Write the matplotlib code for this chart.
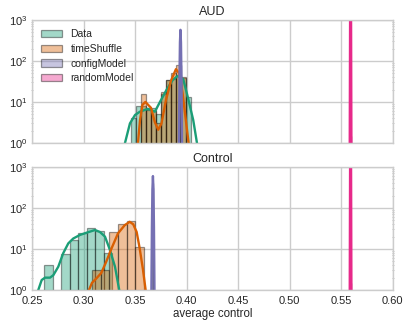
import numpy as np
import matplotlib
matplotlib.use("Agg")
import matplotlib.pyplot as plt

plt.rcParams['font.family'] = ['Liberation Sans', 'DejaVu Sans']
plt.rcParams['mathtext.fontset'] = 'custom'
plt.rcParams['mathtext.rm'] = 'Liberation Sans'
plt.rcParams['mathtext.it'] = 'Liberation Sans:italic'
plt.rcParams['axes.edgecolor'] = '#cccccc'
plt.rcParams['grid.color'] = '#cccccc'
plt.rcParams['text.color'] = '#262626'
plt.rcParams['xtick.color'] = '#262626'
plt.rcParams['ytick.color'] = '#262626'
plt.rcParams['axes.labelcolor'] = '#262626'

# ---------------- data ----------------
labels = ["Data", "timeShuffle", "configModel", "randomModel"]
colors = ["#1b9e77", "#d95f02", "#7570b3", "#e7298a"]
panel_titles = ["AUD", "Control"]
x_ticks = [0.25, 0.30, 0.35, 0.40, 0.45, 0.50, 0.55, 0.60]
x_ticklabels = ["0.25", "0.30", "0.35", "0.40", "0.45", "0.50", "0.55", "0.60"]

# AUD panel histograms (bin edges, bar heights)
aud_data_edges = [0.3460, 0.3508, 0.3557, 0.3605, 0.3654, 0.3702, 0.3751,
                  0.3799, 0.3848, 0.3896, 0.3945, 0.3993, 0.4042]
aud_data_vals = [4, 8, 8, 7, 7, 5, 16, 34, 36, 45, 38, 13]
aud_shuf_edges = [0.3557, 0.3605, 0.3654, 0.3702, 0.3751, 0.3799,
                  0.3848, 0.3896, 0.3945, 0.3993]
aud_shuf_vals = [16, 6.5, 6, 3, 18, 34, 50, 80, 41]
aud_conf_edges = [0.3935, 0.3940, 0.3945]
aud_conf_vals = [60, 80]
aud_rand_edges = [0.5587, 0.5590, 0.5593]
aud_rand_vals = [1.5, 1.5]

# AUD panel density curves
aud_data_kx = [0.3402, 0.3450, 0.3499, 0.3547, 0.3625, 0.3692, 0.3741,
               0.3806, 0.3864, 0.3911, 0.3967, 0.4015, 0.4064, 0.4100]
aud_data_ky = [1, 3, 4.8, 5.8, 6.8, 5.8, 10, 20, 34, 43, 36, 12, 3.6, 1]
aud_shuf_kx = [0.3528, 0.3547, 0.3571, 0.3600, 0.3654, 0.3692, 0.3724,
               0.3756, 0.3799, 0.3848, 0.3896, 0.3928, 0.3961, 0.3996, 0.4019]
aud_shuf_ky = [1, 3.5, 8.5, 10, 7.2, 3.2, 2.1, 3, 11, 33, 63, 50, 16, 3, 1]
aud_conf_kx = [0.3925, 0.3930, 0.3935, 0.3940, 0.3945, 0.3950, 0.3955]
aud_conf_ky = [1, 34, 284, 575, 284, 34, 1]
aud_rand_kx = [0.5582, 0.5585, 0.5588, 0.5590, 0.5592, 0.5595, 0.5598]
aud_rand_ky = [1, 600, 30000, 100000, 30000, 600, 1]

# Control panel histograms
ctl_data_edges = [0.2616, 0.2700, 0.2782, 0.2865, 0.2948, 0.3031,
                  0.3114, 0.3197, 0.3279]
ctl_data_vals = [4, 0, 7.5, 17, 24, 33, 27, 8]
ctl_shuf_edges = [0.3082, 0.3166, 0.3250, 0.3335, 0.3419, 0.3503, 0.3588]
ctl_shuf_vals = [3, 3, 26, 40, 48, 11]
ctl_conf_edges = [0.3668, 0.3673, 0.3678]
ctl_conf_vals = [300, 400]
ctl_rand_edges = [0.5587, 0.5590, 0.5593]
ctl_rand_vals = [1.5, 1.5]

# Control panel density curves
ctl_data_kx = [0.2561, 0.2594, 0.2626, 0.2675, 0.2707, 0.2755, 0.2803, 0.2852,
               0.2900, 0.2965, 0.3030, 0.3111, 0.3159, 0.3208, 0.3256, 0.3305, 0.3346]
ctl_data_ky = [1, 1.75, 2.0, 2.0, 2.3, 3.7, 7.9, 13.7, 18, 22, 25, 29, 26, 20, 9.5, 3.7, 1]
ctl_shuf_kx = [0.3053, 0.3082, 0.3123, 0.3172, 0.3220, 0.3269, 0.3334,
               0.3399, 0.3447, 0.3482, 0.3515, 0.3544, 0.3576, 0.3602]
ctl_shuf_ky = [1, 1.5, 1.9, 2.6, 4.9, 10, 24, 38, 46, 40, 26, 10.5, 3.2, 1]
ctl_conf_kx = [0.3658, 0.3663, 0.3668, 0.3673, 0.3678, 0.3683, 0.3688]
ctl_conf_ky = [1, 34, 290, 600, 290, 34, 1]
ctl_rand_kx = [0.5582, 0.5585, 0.5588, 0.5590, 0.5592, 0.5595, 0.5598]
ctl_rand_ky = [1, 600, 30000, 100000, 30000, 600, 1]

panels = [
    ([(aud_data_edges, aud_data_vals), (aud_shuf_edges, aud_shuf_vals),
      (aud_conf_edges, aud_conf_vals), (aud_rand_edges, aud_rand_vals)],
     [(aud_data_kx, aud_data_ky), (aud_shuf_kx, aud_shuf_ky),
      (aud_conf_kx, aud_conf_ky), (aud_rand_kx, aud_rand_ky)]),
    ([(ctl_data_edges, ctl_data_vals), (ctl_shuf_edges, ctl_shuf_vals),
      (ctl_conf_edges, ctl_conf_vals), (ctl_rand_edges, ctl_rand_vals)],
     [(ctl_data_kx, ctl_data_ky), (ctl_shuf_kx, ctl_shuf_ky),
      (ctl_conf_kx, ctl_conf_ky), (ctl_rand_kx, ctl_rand_ky)]),
]

# ---------------- figure ----------------
fig = plt.figure(figsize=(4.05, 3.22), dpi=100)
ax_top = fig.add_axes([0.079, 0.556, 0.891, 0.382])
ax_bot = fig.add_axes([0.079, 0.0994, 0.891, 0.382], sharex=ax_top)
axes = [ax_top, ax_bot]

for i, (ax, (hists, kdes)) in enumerate(zip(axes, panels)):
    ax.set_yscale('log')
    ax.set_axisbelow(True)
    ax.grid(True, which='major', linewidth=1.0, color='#cccccc')
    for j, (edges, vals) in enumerate(hists):
        e = np.asarray(edges)
        ax.bar(e[:-1], vals, width=np.diff(e), align='edge', color=colors[j],
               alpha=0.4, edgecolor='black', linewidth=0.9, label=labels[j])
    for j, (kx, ky) in enumerate(kdes):
        ax.plot(kx, ky, color=colors[j], linewidth=1.7, solid_joinstyle='round')
    ax.set_xlim(0.25, 0.60)
    ax.set_ylim(1, 1000)
    ax.set_title(panel_titles[i], fontsize=9, pad=3.5)
    ax.tick_params(axis='y', which='major', length=0, labelsize=8, pad=3)
    ax.tick_params(axis='x', which='major', length=0, labelsize=8, pad=4.5)
    ax.tick_params(axis='y', which='minor', left=True, right=True, length=2,
                   width=0.6, color='#bbbbbb', direction='inout')
    ax.tick_params(axis='x', which='minor', bottom=False)
    for s in ax.spines.values():
        s.set_color('#cccccc')
        s.set_linewidth(1.0)

ax_bot.set_xticks(x_ticks)
ax_bot.set_xticklabels(x_ticklabels)
plt.setp(ax_top.get_xticklabels(), visible=False)
ax_bot.set_xlabel("average control", fontsize=8.3, labelpad=1.5)

ax_top.legend(loc='upper left', frameon=False, fontsize=7.5,
              handlelength=2.0, handletextpad=0.8, labelspacing=0.45)

fig.savefig("out.png", dpi=100)
